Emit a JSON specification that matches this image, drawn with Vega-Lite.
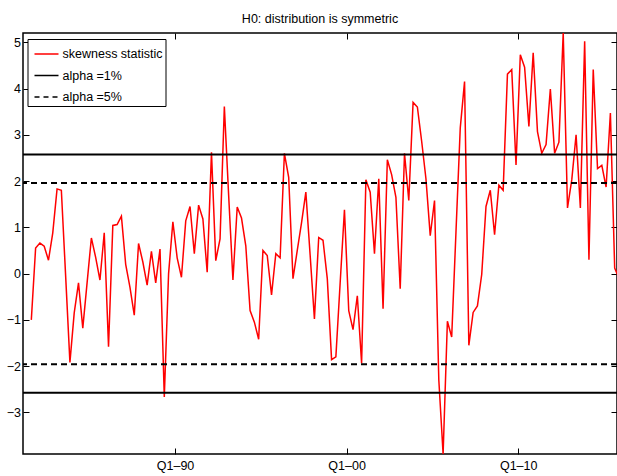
{
  "$schema": "https://vega.github.io/schema/vega-lite/v6.json",
  "width": 594,
  "height": 421,
  "autosize": {"type": "none"},
  "padding": {"left": 23, "top": 33, "right": 0, "bottom": 22},
  "background": "white",
  "config": {
    "font": "Liberation Sans",
    "view": {"stroke": "#000", "strokeWidth": 1.5},
    "axis": {"domain": false, "grid": false, "tickColor": "#000", "tickSize": -6, "tickWidth": 1, "labelColor": "#000", "labelFontSize": 12.5, "title": null}
  },
  "title": {"text": "H0: distribution is symmetric", "fontSize": 12.5, "fontWeight": "normal", "color": "#000", "anchor": "middle", "baseline": "alphabetic", "offset": 12, "dy": 15},
  "datasets": {
    "skew": [
      {"t": 1981.625, "v": -1.0, "series": "skewness statistic"},
      {"t": 1981.875, "v": 0.55, "series": "skewness statistic"},
      {"t": 1982.125, "v": 0.66, "series": "skewness statistic"},
      {"t": 1982.375, "v": 0.59, "series": "skewness statistic"},
      {"t": 1982.625, "v": 0.29, "series": "skewness statistic"},
      {"t": 1982.875, "v": 0.88, "series": "skewness statistic"},
      {"t": 1983.125, "v": 1.83, "series": "skewness statistic"},
      {"t": 1983.375, "v": 1.8, "series": "skewness statistic"},
      {"t": 1983.625, "v": -0.05, "series": "skewness statistic"},
      {"t": 1983.875, "v": -1.92, "series": "skewness statistic"},
      {"t": 1984.125, "v": -0.85, "series": "skewness statistic"},
      {"t": 1984.375, "v": -0.2, "series": "skewness statistic"},
      {"t": 1984.625, "v": -1.18, "series": "skewness statistic"},
      {"t": 1984.875, "v": -0.2, "series": "skewness statistic"},
      {"t": 1985.125, "v": 0.77, "series": "skewness statistic"},
      {"t": 1985.375, "v": 0.35, "series": "skewness statistic"},
      {"t": 1985.625, "v": -0.14, "series": "skewness statistic"},
      {"t": 1985.875, "v": 0.88, "series": "skewness statistic"},
      {"t": 1986.125, "v": -1.58, "series": "skewness statistic"},
      {"t": 1986.375, "v": 1.04, "series": "skewness statistic"},
      {"t": 1986.625, "v": 1.06, "series": "skewness statistic"},
      {"t": 1986.875, "v": 1.24, "series": "skewness statistic"},
      {"t": 1987.125, "v": 0.2, "series": "skewness statistic"},
      {"t": 1987.375, "v": -0.3, "series": "skewness statistic"},
      {"t": 1987.625, "v": -0.9, "series": "skewness statistic"},
      {"t": 1987.875, "v": 0.65, "series": "skewness statistic"},
      {"t": 1988.125, "v": 0.25, "series": "skewness statistic"},
      {"t": 1988.375, "v": -0.25, "series": "skewness statistic"},
      {"t": 1988.625, "v": 0.48, "series": "skewness statistic"},
      {"t": 1988.875, "v": -0.2, "series": "skewness statistic"},
      {"t": 1989.125, "v": 0.53, "series": "skewness statistic"},
      {"t": 1989.375, "v": -2.67, "series": "skewness statistic"},
      {"t": 1989.625, "v": 0.0, "series": "skewness statistic"},
      {"t": 1989.875, "v": 1.12, "series": "skewness statistic"},
      {"t": 1990.125, "v": 0.34, "series": "skewness statistic"},
      {"t": 1990.375, "v": -0.08, "series": "skewness statistic"},
      {"t": 1990.625, "v": 1.14, "series": "skewness statistic"},
      {"t": 1990.875, "v": 1.45, "series": "skewness statistic"},
      {"t": 1991.125, "v": 0.43, "series": "skewness statistic"},
      {"t": 1991.375, "v": 1.48, "series": "skewness statistic"},
      {"t": 1991.625, "v": 1.18, "series": "skewness statistic"},
      {"t": 1991.875, "v": 0.03, "series": "skewness statistic"},
      {"t": 1992.125, "v": 2.62, "series": "skewness statistic"},
      {"t": 1992.375, "v": 0.28, "series": "skewness statistic"},
      {"t": 1992.625, "v": 0.75, "series": "skewness statistic"},
      {"t": 1992.875, "v": 3.61, "series": "skewness statistic"},
      {"t": 1993.125, "v": 1.7, "series": "skewness statistic"},
      {"t": 1993.375, "v": -0.14, "series": "skewness statistic"},
      {"t": 1993.625, "v": 1.44, "series": "skewness statistic"},
      {"t": 1993.875, "v": 1.2, "series": "skewness statistic"},
      {"t": 1994.125, "v": 0.6, "series": "skewness statistic"},
      {"t": 1994.375, "v": -0.8, "series": "skewness statistic"},
      {"t": 1994.625, "v": -1.05, "series": "skewness statistic"},
      {"t": 1994.875, "v": -1.42, "series": "skewness statistic"},
      {"t": 1995.125, "v": 0.5, "series": "skewness statistic"},
      {"t": 1995.375, "v": 0.39, "series": "skewness statistic"},
      {"t": 1995.625, "v": -0.46, "series": "skewness statistic"},
      {"t": 1995.875, "v": 0.43, "series": "skewness statistic"},
      {"t": 1996.125, "v": 0.34, "series": "skewness statistic"},
      {"t": 1996.375, "v": 2.6, "series": "skewness statistic"},
      {"t": 1996.625, "v": 2.08, "series": "skewness statistic"},
      {"t": 1996.875, "v": -0.11, "series": "skewness statistic"},
      {"t": 1997.125, "v": 0.5, "series": "skewness statistic"},
      {"t": 1997.375, "v": 1.1, "series": "skewness statistic"},
      {"t": 1997.625, "v": 1.76, "series": "skewness statistic"},
      {"t": 1997.875, "v": 0.4, "series": "skewness statistic"},
      {"t": 1998.125, "v": -0.98, "series": "skewness statistic"},
      {"t": 1998.375, "v": 0.78, "series": "skewness statistic"},
      {"t": 1998.625, "v": 0.72, "series": "skewness statistic"},
      {"t": 1998.875, "v": -0.11, "series": "skewness statistic"},
      {"t": 1999.125, "v": -1.86, "series": "skewness statistic"},
      {"t": 1999.375, "v": -1.8, "series": "skewness statistic"},
      {"t": 1999.625, "v": -0.2, "series": "skewness statistic"},
      {"t": 1999.875, "v": 1.38, "series": "skewness statistic"},
      {"t": 2000.125, "v": -0.8, "series": "skewness statistic"},
      {"t": 2000.375, "v": -1.21, "series": "skewness statistic"},
      {"t": 2000.625, "v": -0.48, "series": "skewness statistic"},
      {"t": 2000.875, "v": -1.94, "series": "skewness statistic"},
      {"t": 2001.125, "v": 2.03, "series": "skewness statistic"},
      {"t": 2001.375, "v": 1.76, "series": "skewness statistic"},
      {"t": 2001.625, "v": 0.43, "series": "skewness statistic"},
      {"t": 2001.875, "v": 2.05, "series": "skewness statistic"},
      {"t": 2002.125, "v": -0.76, "series": "skewness statistic"},
      {"t": 2002.375, "v": 2.46, "series": "skewness statistic"},
      {"t": 2002.625, "v": 2.14, "series": "skewness statistic"},
      {"t": 2002.875, "v": 1.65, "series": "skewness statistic"},
      {"t": 2003.125, "v": -0.33, "series": "skewness statistic"},
      {"t": 2003.375, "v": 2.6, "series": "skewness statistic"},
      {"t": 2003.625, "v": 1.58, "series": "skewness statistic"},
      {"t": 2003.875, "v": 3.7, "series": "skewness statistic"},
      {"t": 2004.125, "v": 3.6, "series": "skewness statistic"},
      {"t": 2004.375, "v": 2.86, "series": "skewness statistic"},
      {"t": 2004.625, "v": 2.05, "series": "skewness statistic"},
      {"t": 2004.875, "v": 0.82, "series": "skewness statistic"},
      {"t": 2005.125, "v": 1.58, "series": "skewness statistic"},
      {"t": 2005.375, "v": -2.3, "series": "skewness statistic"},
      {"t": 2005.625, "v": -3.9, "series": "skewness statistic"},
      {"t": 2005.875, "v": -1.03, "series": "skewness statistic"},
      {"t": 2006.125, "v": -1.37, "series": "skewness statistic"},
      {"t": 2006.375, "v": 0.9, "series": "skewness statistic"},
      {"t": 2006.625, "v": 3.15, "series": "skewness statistic"},
      {"t": 2006.875, "v": 4.15, "series": "skewness statistic"},
      {"t": 2007.125, "v": -1.55, "series": "skewness statistic"},
      {"t": 2007.375, "v": -0.84, "series": "skewness statistic"},
      {"t": 2007.625, "v": -0.7, "series": "skewness statistic"},
      {"t": 2007.875, "v": -0.02, "series": "skewness statistic"},
      {"t": 2008.125, "v": 1.45, "series": "skewness statistic"},
      {"t": 2008.375, "v": 1.8, "series": "skewness statistic"},
      {"t": 2008.625, "v": 0.84, "series": "skewness statistic"},
      {"t": 2008.875, "v": 1.91, "series": "skewness statistic"},
      {"t": 2009.125, "v": 1.8, "series": "skewness statistic"},
      {"t": 2009.375, "v": 4.31, "series": "skewness statistic"},
      {"t": 2009.625, "v": 4.41, "series": "skewness statistic"},
      {"t": 2009.875, "v": 2.35, "series": "skewness statistic"},
      {"t": 2010.125, "v": 4.73, "series": "skewness statistic"},
      {"t": 2010.375, "v": 4.46, "series": "skewness statistic"},
      {"t": 2010.625, "v": 3.18, "series": "skewness statistic"},
      {"t": 2010.875, "v": 4.77, "series": "skewness statistic"},
      {"t": 2011.125, "v": 3.07, "series": "skewness statistic"},
      {"t": 2011.375, "v": 2.6, "series": "skewness statistic"},
      {"t": 2011.625, "v": 2.79, "series": "skewness statistic"},
      {"t": 2011.875, "v": 3.99, "series": "skewness statistic"},
      {"t": 2012.125, "v": 2.6, "series": "skewness statistic"},
      {"t": 2012.375, "v": 2.84, "series": "skewness statistic"},
      {"t": 2012.625, "v": 5.2, "series": "skewness statistic"},
      {"t": 2012.875, "v": 1.42, "series": "skewness statistic"},
      {"t": 2013.125, "v": 2.03, "series": "skewness statistic"},
      {"t": 2013.375, "v": 3.0, "series": "skewness statistic"},
      {"t": 2013.625, "v": 1.42, "series": "skewness statistic"},
      {"t": 2013.875, "v": 5.02, "series": "skewness statistic"},
      {"t": 2014.125, "v": 0.3, "series": "skewness statistic"},
      {"t": 2014.375, "v": 4.41, "series": "skewness statistic"},
      {"t": 2014.625, "v": 2.27, "series": "skewness statistic"},
      {"t": 2014.875, "v": 2.34, "series": "skewness statistic"},
      {"t": 2015.125, "v": 1.87, "series": "skewness statistic"},
      {"t": 2015.375, "v": 3.47, "series": "skewness statistic"},
      {"t": 2015.625, "v": 0.12, "series": "skewness statistic"},
      {"t": 2015.875, "v": -0.1, "series": "skewness statistic"}
    ],
    "crit1": [
      {"c": 2.576, "series": "alpha =1%"},
      {"c": -2.576, "series": "alpha =1%"}
    ],
    "crit5": [
      {"c": 1.96, "series": "alpha =5%"},
      {"c": -1.96, "series": "alpha =5%"}
    ]
  },
  "layer": [
    {
      "data": {"name": "skew"},
      "mark": {"type": "line", "strokeWidth": 1.5, "clip": true},
      "encoding": {
        "x": {"field": "t", "type": "quantitative", "scale": {"domain": [1981.14, 2015.76], "nice": false, "zero": false},
              "axis": {"orient": "bottom", "values": [1990, 2000, 2010], "labelExpr": "'Q1–' + format(datum.value % 100, '02d')", "labelPadding": 11}},
        "y": {"field": "v", "type": "quantitative", "scale": {"domain": [-3.9, 5.2], "nice": false, "zero": false},
              "axis": {"orient": "left", "values": [-3, -2, -1, 0, 1, 2, 3, 4, 5], "labelPadding": 8.5}},
        "color": {"field": "series", "type": "nominal",
                  "scale": {"domain": ["skewness statistic", "alpha =1%", "alpha =5%"], "range": ["#ff0000", "#000000", "#000000"]},
                  "legend": {"title": null, "orient": "none", "legendX": 4.5, "legendY": 6, "fillColor": "white", "strokeColor": "#000", "padding": 2, "symbolType": "stroke", "symbolSize": 576, "symbolStrokeWidth": 1.5, "symbolOffset": 4, "labelFontSize": 12.5, "labelColor": "#000", "labelOffset": 3, "labelLimit": 0, "rowPadding": 1.5,
                             "encode": {"symbols": {"update": {"strokeDash": {"signal": "datum.value === 'alpha =5%' ? [5, 4] : [1, 0]"}}}}}}
      }
    },
    {
      "data": {"name": "crit1"},
      "mark": {"type": "rule", "strokeWidth": 2},
      "encoding": {
        "y": {"field": "c", "type": "quantitative", "axis": null},
        "color": {"field": "series", "type": "nominal"}
      }
    },
    {
      "data": {"name": "crit5"},
      "mark": {"type": "rule", "strokeWidth": 2, "strokeDash": [6, 4]},
      "encoding": {
        "y": {"field": "c", "type": "quantitative", "axis": null},
        "color": {"field": "series", "type": "nominal"}
      }
    },
    {
      "data": {"name": "skew"},
      "mark": {"type": "line", "strokeOpacity": 0, "clip": true},
      "encoding": {
        "x": {"field": "t", "type": "quantitative", "axis": {"orient": "top", "values": [1990, 2000, 2010], "labels": false}},
        "y": {"field": "v", "type": "quantitative", "axis": {"orient": "right", "values": [-3, -2, -1, 0, 1, 2, 3, 4, 5], "labels": false}}
      }
    }
  ],
  "resolve": {"axis": {"x": "independent", "y": "independent"}}
}
